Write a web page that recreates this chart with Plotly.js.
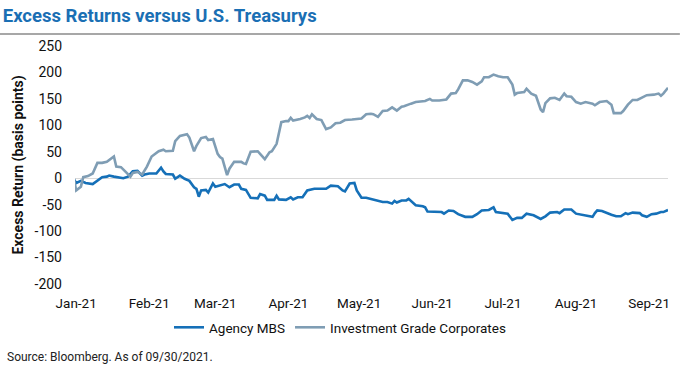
<!DOCTYPE html>
<html>
<head>
<meta charset="utf-8">
<script src="https://cdn.plot.ly/plotly-3.0.1.min.js"></script>
<style>html,body{margin:0;padding:0;background:#fff;}#chart{width:680px;height:368px;}</style>
</head>
<body>
<div id="chart"></div>
<script>
var mbsDates = ['2020-12-31','2021-01-01','2021-01-03','2021-01-05','2021-01-08','2021-01-10','2021-01-12','2021-01-14','2021-01-15','2021-01-17','2021-01-19','2021-01-21','2021-01-23','2021-01-25','2021-01-27','2021-01-29','2021-01-30',
'2021-02-01','2021-02-04','2021-02-06','2021-02-07','2021-02-08','2021-02-11','2021-02-12','2021-02-14','2021-02-16','2021-02-18','2021-02-20','2021-02-21','2021-02-22','2021-02-23','2021-02-25','2021-02-26','2021-02-28',
'2021-03-01','2021-03-03','2021-03-05','2021-03-07','2021-03-09','2021-03-11','2021-03-12','2021-03-14','2021-03-16','2021-03-19','2021-03-20','2021-03-22','2021-03-23','2021-03-26','2021-03-27','2021-03-28','2021-03-31',
'2021-04-02','2021-04-03','2021-04-05','2021-04-07','2021-04-09','2021-04-12','2021-04-14','2021-04-17','2021-04-19','2021-04-22','2021-04-24','2021-04-25','2021-04-27','2021-04-29','2021-04-30',
'2021-05-02','2021-05-04','2021-05-06','2021-05-08','2021-05-11','2021-05-13','2021-05-15','2021-05-16','2021-05-17','2021-05-19','2021-05-21','2021-05-22','2021-05-25','2021-05-28','2021-05-29','2021-05-30',
'2021-06-03','2021-06-05','2021-06-06','2021-06-08','2021-06-10','2021-06-12','2021-06-15','2021-06-18','2021-06-20','2021-06-22','2021-06-25','2021-06-27','2021-06-28',
'2021-07-01','2021-07-03','2021-07-05','2021-07-07','2021-07-09','2021-07-11','2021-07-14','2021-07-15','2021-07-17','2021-07-19','2021-07-21','2021-07-24','2021-07-25','2021-07-27','2021-07-30',
'2021-08-01','2021-08-04','2021-08-08','2021-08-09','2021-08-10','2021-08-12','2021-08-14','2021-08-16','2021-08-18','2021-08-20','2021-08-22','2021-08-23','2021-08-25','2021-08-28','2021-08-29','2021-08-31',
'2021-09-02','2021-09-04','2021-09-06','2021-09-07','2021-09-09'];
var mbsValues = [-2,-9,-5,-9,-11,-5,2,3,5,3,2,0,3,13,14,5,7,
9,9,20,13,8,7,-1,5,-1,-5,-17,-20,-35,-23,-22,-27,-10,
-16,-14,-11,-17,-12,-12,-20,-22,-37,-38,-30,-33,-41,-41,-33,-40,-41,
-36,-40,-36,-36,-23,-20,-20,-20,-14,-15,-23,-25,-10,-9,-23,
-37,-37,-39,-42,-45,-45,-48,-43,-46,-42,-42,-39,-51,-53,-55,-63,
-63,-64,-67,-61,-62,-68,-73,-73,-68,-61,-60,-55,-64,
-66,-67,-79,-75,-75,-67,-70,-72,-77,-72,-65,-64,-66,-59,-59,
-67,-70,-73,-66,-61,-62,-66,-69,-72,-72,-66,-68,-65,-66,-70,-73,
-68,-67,-64,-64,-60];

var igDates = ['2020-12-31','2021-01-01','2021-01-03','2021-01-04','2021-01-06','2021-01-08','2021-01-10','2021-01-12','2021-01-14','2021-01-17','2021-01-18','2021-01-20','2021-01-22','2021-01-24','2021-01-25','2021-01-27','2021-01-29','2021-01-31',
'2021-02-02','2021-02-05','2021-02-07','2021-02-08','2021-02-11','2021-02-12','2021-02-14','2021-02-17','2021-02-18','2021-02-20','2021-02-21','2021-02-23','2021-02-25','2021-02-26','2021-02-28',
'2021-03-02','2021-03-03','2021-03-04','2021-03-06','2021-03-07','2021-03-09','2021-03-12','2021-03-13','2021-03-14','2021-03-16','2021-03-19','2021-03-20','2021-03-22','2021-03-24','2021-03-25','2021-03-27','2021-03-29','2021-03-31',
'2021-04-01','2021-04-02','2021-04-03','2021-04-06','2021-04-08','2021-04-09','2021-04-10','2021-04-11','2021-04-13','2021-04-15','2021-04-17','2021-04-19','2021-04-21','2021-04-23','2021-04-25','2021-04-28',
'2021-05-01','2021-05-02','2021-05-04','2021-05-06','2021-05-07','2021-05-09','2021-05-11','2021-05-13','2021-05-15','2021-05-17','2021-05-19','2021-05-20','2021-05-23','2021-05-25','2021-05-29','2021-05-31',
'2021-06-01','2021-06-04','2021-06-07','2021-06-09','2021-06-11','2021-06-12','2021-06-14','2021-06-16','2021-06-18','2021-06-20','2021-06-22','2021-06-23','2021-06-25','2021-06-27','2021-06-29',
'2021-07-01','2021-07-03','2021-07-05','2021-07-06','2021-07-07','2021-07-10','2021-07-11','2021-07-13','2021-07-15','2021-07-17','2021-07-18','2021-07-19','2021-07-21','2021-07-23','2021-07-25','2021-07-27','2021-07-28','2021-07-30',
'2021-08-01','2021-08-03','2021-08-05','2021-08-08','2021-08-09','2021-08-11','2021-08-14','2021-08-16','2021-08-17','2021-08-20','2021-08-21','2021-08-23','2021-08-25','2021-08-27','2021-08-29','2021-08-31',
'2021-09-03','2021-09-05','2021-09-06','2021-09-07','2021-09-09'];
var igValues = [0,-23,-16,2,4,9,29,29,31,41,22,21,12,3,10,12,7,22,
41,51,54,51,52,70,80,83,77,51,61,76,78,72,74,
46,40,37,6,18,31,31,28,27,50,51,46,36,49,51,65,106,108,
108,114,109,112,115,118,114,121,112,110,93,96,104,105,110,111,
113,113,121,122,121,116,127,128,134,128,135,136,141,144,146,150,
147,147,149,160,161,168,185,185,182,177,183,191,191,196,193,
191,191,177,158,161,163,169,160,156,130,125,142,151,152,148,160,155,154,
144,141,144,141,138,144,146,139,123,123,127,139,148,148,153,157,
158,160,156,160,171];

var seriesNames = ['Agency MBS', 'Investment Grade Corporates'];
var yTicks = [-200,-150,-100,-50,0,50,100,150,200,250];

var FONT = 'Roboto, "Liberation Sans", Arial, sans-serif';

var traces = [
  {x: mbsDates, y: mbsValues, name: seriesNames[0], type: 'scatter', mode: 'lines',
   line: {color: '#1570b8', width: 2.6}},
  {x: igDates, y: igValues, name: seriesNames[1], type: 'scatter', mode: 'lines',
   line: {color: '#7f9db4', width: 2.6}}
];

var layout = {
  width: 680, height: 368,
  margin: {l: 75, r: 12, t: 46, b: 84},
  paper_bgcolor: '#fff', plot_bgcolor: '#fff',
  font: {family: FONT, size: 13, color: '#222'},
  title: {text: '<b>Excess Returns versus U.S. Treasurys</b>', xref: 'container', yref: 'container',
          x: 0.004, xanchor: 'left', y: 0.958, yanchor: 'middle',
          font: {family: FONT, size: 18.5, color: '#1a6fb4'}},
  xaxis: {type: 'date', range: ['2020-12-31 12:00', '2021-09-09'],
          tick0: '2021-01-01', dtick: 'M1', tickformat: '%b-%y',
          showgrid: false, zeroline: false, showline: false, ticks: '',
          ticklabelstandoff: 9, tickfont: {size: 13.5, color: '#111'}},
  yaxis: {range: [-200, 250], tickvals: yTicks, ticktext: yTicks.map(String),
          showgrid: false, zeroline: true, zerolinecolor: '#d9d9d9', zerolinewidth: 1,
          showline: false, ticks: '', ticklabelstandoff: 12, tickfont: {size: 14, color: '#111'},
          title: {text: '<b>Excess Return (basis points)</b>', standoff: 7, font: {size: 14, color: '#111'}}},
  showlegend: true,
  legend: {orientation: 'h', xref: 'container', yref: 'container', x: 0.5, xanchor: 'center',
           y: 0.11, yanchor: 'middle', font: {size: 13.5, color: '#111'}, traceorder: 'normal'},
  shapes: [{type: 'line', xref: 'paper', yref: 'paper', x0: -0.1265, x1: 1.02, y0: 1.05, y1: 1.05,
            line: {color: '#8a8a8a', width: 1.5}}],
  annotations: [{text: 'Source: Bloomberg. As of 09/30/2021.', xref: 'paper', yref: 'paper',
                 x: -0.118, xanchor: 'left', y: -0.306, yanchor: 'middle', showarrow: false,
                 font: {size: 12, color: '#222'}}]
};

Plotly.newPlot('chart', traces, layout, {displayModeBar: false, staticPlot: true});
</script>
</body>
</html>
